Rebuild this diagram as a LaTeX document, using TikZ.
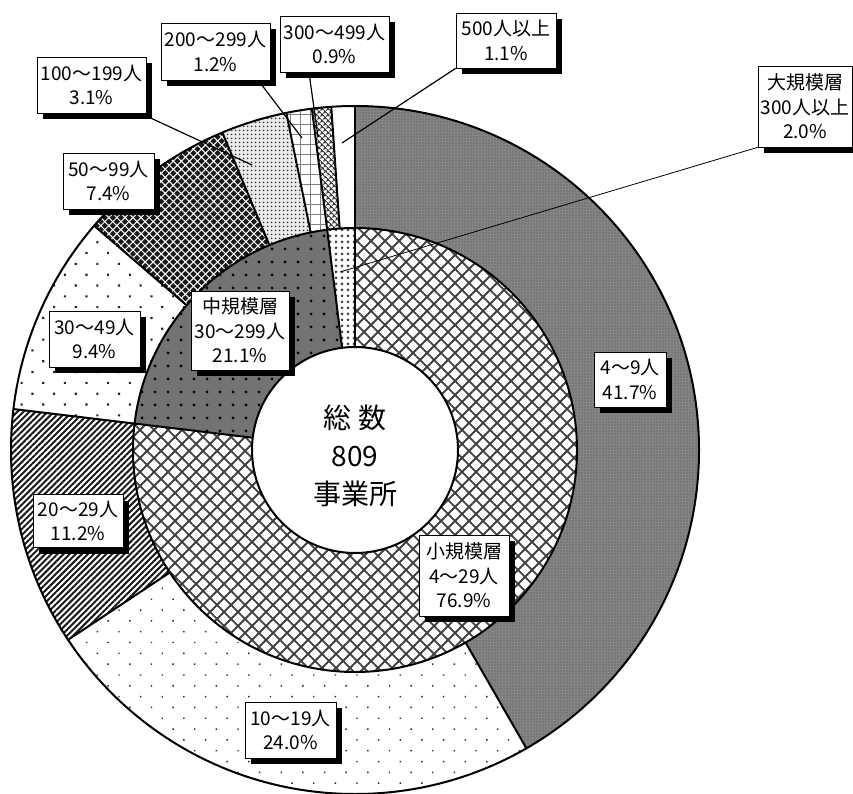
\documentclass[tikz,border=0pt]{standalone}
\usepackage{fontspec}
\newfontfamily\jp{Noto Sans CJK JP}
\usetikzlibrary{patterns.meta,shadows,calc}
\newcommand\ringpart[5]{\path[#1] (#2:#4) arc[start angle=#2, end angle=#3, radius=#4] -- (#3:#5) arc[start angle=#3, end angle=#2, radius=#5] -- cycle;}
\begin{document}
\begin{tikzpicture}[x=1pt,y=-1pt,
  lbl/.style={draw=black, line width=0.7pt, fill=white, align=center, inner sep=0pt,
    font=\jp\fontsize{19}{24.5}\selectfont,
    drop shadow={shadow xshift=6pt, shadow yshift=-6pt, fill=black, opacity=1}},
  lead/.style={draw=black, line width=1.2pt},
  edgeline/.style={draw=black, line width=2pt},
  s1/.style={fill=black!48, postaction={pattern color=black!70, pattern={Dots[distance=3pt, radius=0.6pt]}}},
  s2/.style={fill=white, postaction={pattern color=black!85, pattern={Dots[distance=15.3pt, radius=1pt, angle=45]}}},
  s3/.style={fill=white, postaction={pattern color=black!90, pattern={Lines[distance=4.3pt, line width=2pt, angle=45]}}},
  s4/.style={fill=white, postaction={pattern color=black!85, pattern={Dots[distance=15.3pt, radius=1.5pt, angle=45]}}},
  s5/.style={fill=black!90, postaction={pattern color=white, pattern={Hatch[distance=5.7pt, line width=1pt, angle=45]}}},
  s6/.style={fill=black!8, postaction={pattern color=black!80, pattern={Dots[distance=4pt, radius=1.1pt]}}},
  s7/.style={fill=white, postaction={pattern color=black!50, pattern={Hatch[distance=10pt, line width=0.9pt, angle=0]}}},
  s8/.style={fill=white, postaction={pattern color=black!75, pattern={Hatch[distance=4pt, line width=1.2pt, angle=45]}}},
  s9/.style={fill=white},
  i1/.style={fill=white, postaction={pattern color=black!75, pattern={Hatch[distance=9.9pt, line width=1.8pt, angle=45]}}},
  i2/.style={fill=black!55, postaction={pattern color=black, pattern={Dots[distance=13pt, radius=1.7pt]}}},
  i3/.style={fill=white, postaction={pattern color=black!75, pattern={Dots[distance=6pt, radius=1.5pt]}}}
]
\useasboundingbox (0,0) rectangle (853,794);
\begin{scope}[shift={(355,450)}]
  % outer ring
  \ringpart{s1}{-90}{60.12}{222}{344}
  \ringpart{s2}{60.12}{146.52}{222}{344}
  \ringpart{s3}{146.52}{186.84}{222}{344}
  \ringpart{s4}{186.84}{220.68}{222}{344}
  \ringpart{s5}{220.68}{247.32}{222}{344}
  \ringpart{s6}{247.32}{258.48}{222}{344}
  \ringpart{s7}{258.48}{262.8}{222}{344}
  \ringpart{s8}{262.8}{266.04}{222}{344}
  \ringpart{s9}{266.04}{270}{222}{344}
  % inner ring
  \ringpart{i1}{-90}{186.84}{103}{222}
  \ringpart{i2}{186.84}{262.8}{103}{222}
  \ringpart{i3}{262.8}{270}{103}{222}
  % outlines
  \draw[edgeline] (0,0) circle[radius=344];
  \draw[edgeline] (0,0) circle[radius=222];
  \draw[edgeline, fill=white] (0,0) circle[radius=103];
  \foreach \a in {60.12,146.52,220.68,247.32,258.48,266.04}
    \draw[edgeline] (\a:222) -- (\a:344);
  \foreach \a in {-90,186.84,262.8}
    \draw[edgeline] (\a:103) -- (\a:344);
  \node[font=\jp\fontsize{28}{38}\selectfont, align=center] (ctr) at (0,5.5) {総 数\\809\\事業所};
\end{scope}
% labels
\node[lbl, minimum width=100pt, minimum height=55pt] (l500) at (506,40.5) {500人以上\\1.1\%};
\node[lbl, minimum width=109pt, minimum height=56pt] (l300) at (334.5,44) {300～499人\\0.9\%};
\node[lbl, minimum width=109pt, minimum height=57pt] (l200) at (215.5,51.5) {200～299人\\1.2\%};
\node[lbl, minimum width=109pt, minimum height=56pt] (l100) at (91.5,85) {100～199人\\3.1\%};
\node[lbl, minimum width=91pt, minimum height=56pt] (l50) at (108.5,181) {50～99人\\7.4\%};
\node[lbl, minimum width=91pt, minimum height=56pt] (l30) at (94.5,339) {30～49人\\9.4\%};
\node[lbl, minimum width=90pt, minimum height=53pt] (l20) at (78,521) {20～29人\\11.2\%};
\node[lbl, minimum width=91pt, minimum height=56pt] (l10) at (290.5,730) {10～19人\\24.0\%};
\node[lbl, minimum width=72pt, minimum height=55pt] (l4) at (630,379.5) {4～9人\\41.7\%};
\node[lbl, minimum width=94pt, minimum height=81pt] (lbig) at (805,106.5) {大規模層\\300人以上\\2.0\%};
\node[lbl, minimum width=98pt, minimum height=79pt] (lmid) at (240,330.5) {中規模層\\30～299人\\21.1\%};
\node[lbl, minimum width=90pt, minimum height=81pt] (lsmall) at (464,575.5) {小規模層\\4～29人\\76.9\%};
% leader lines
\coordinate (t100) at (252,165);
\coordinate (t200) at (302,138);
\coordinate (t300) at (318,137);
\coordinate (t500) at (342,143);
\coordinate (tbig) at (340,272);
\draw[lead] (l100.-30) -- (t100);
\draw[lead] (l200.-34) -- (t200);
\draw[lead] (l300.-132) -- (t300);
\draw[lead] (l500.south west) -- (t500);
\draw[lead, line width=0.8pt] (lbig.south west) -- (tbig);
\end{tikzpicture}
\end{document}
